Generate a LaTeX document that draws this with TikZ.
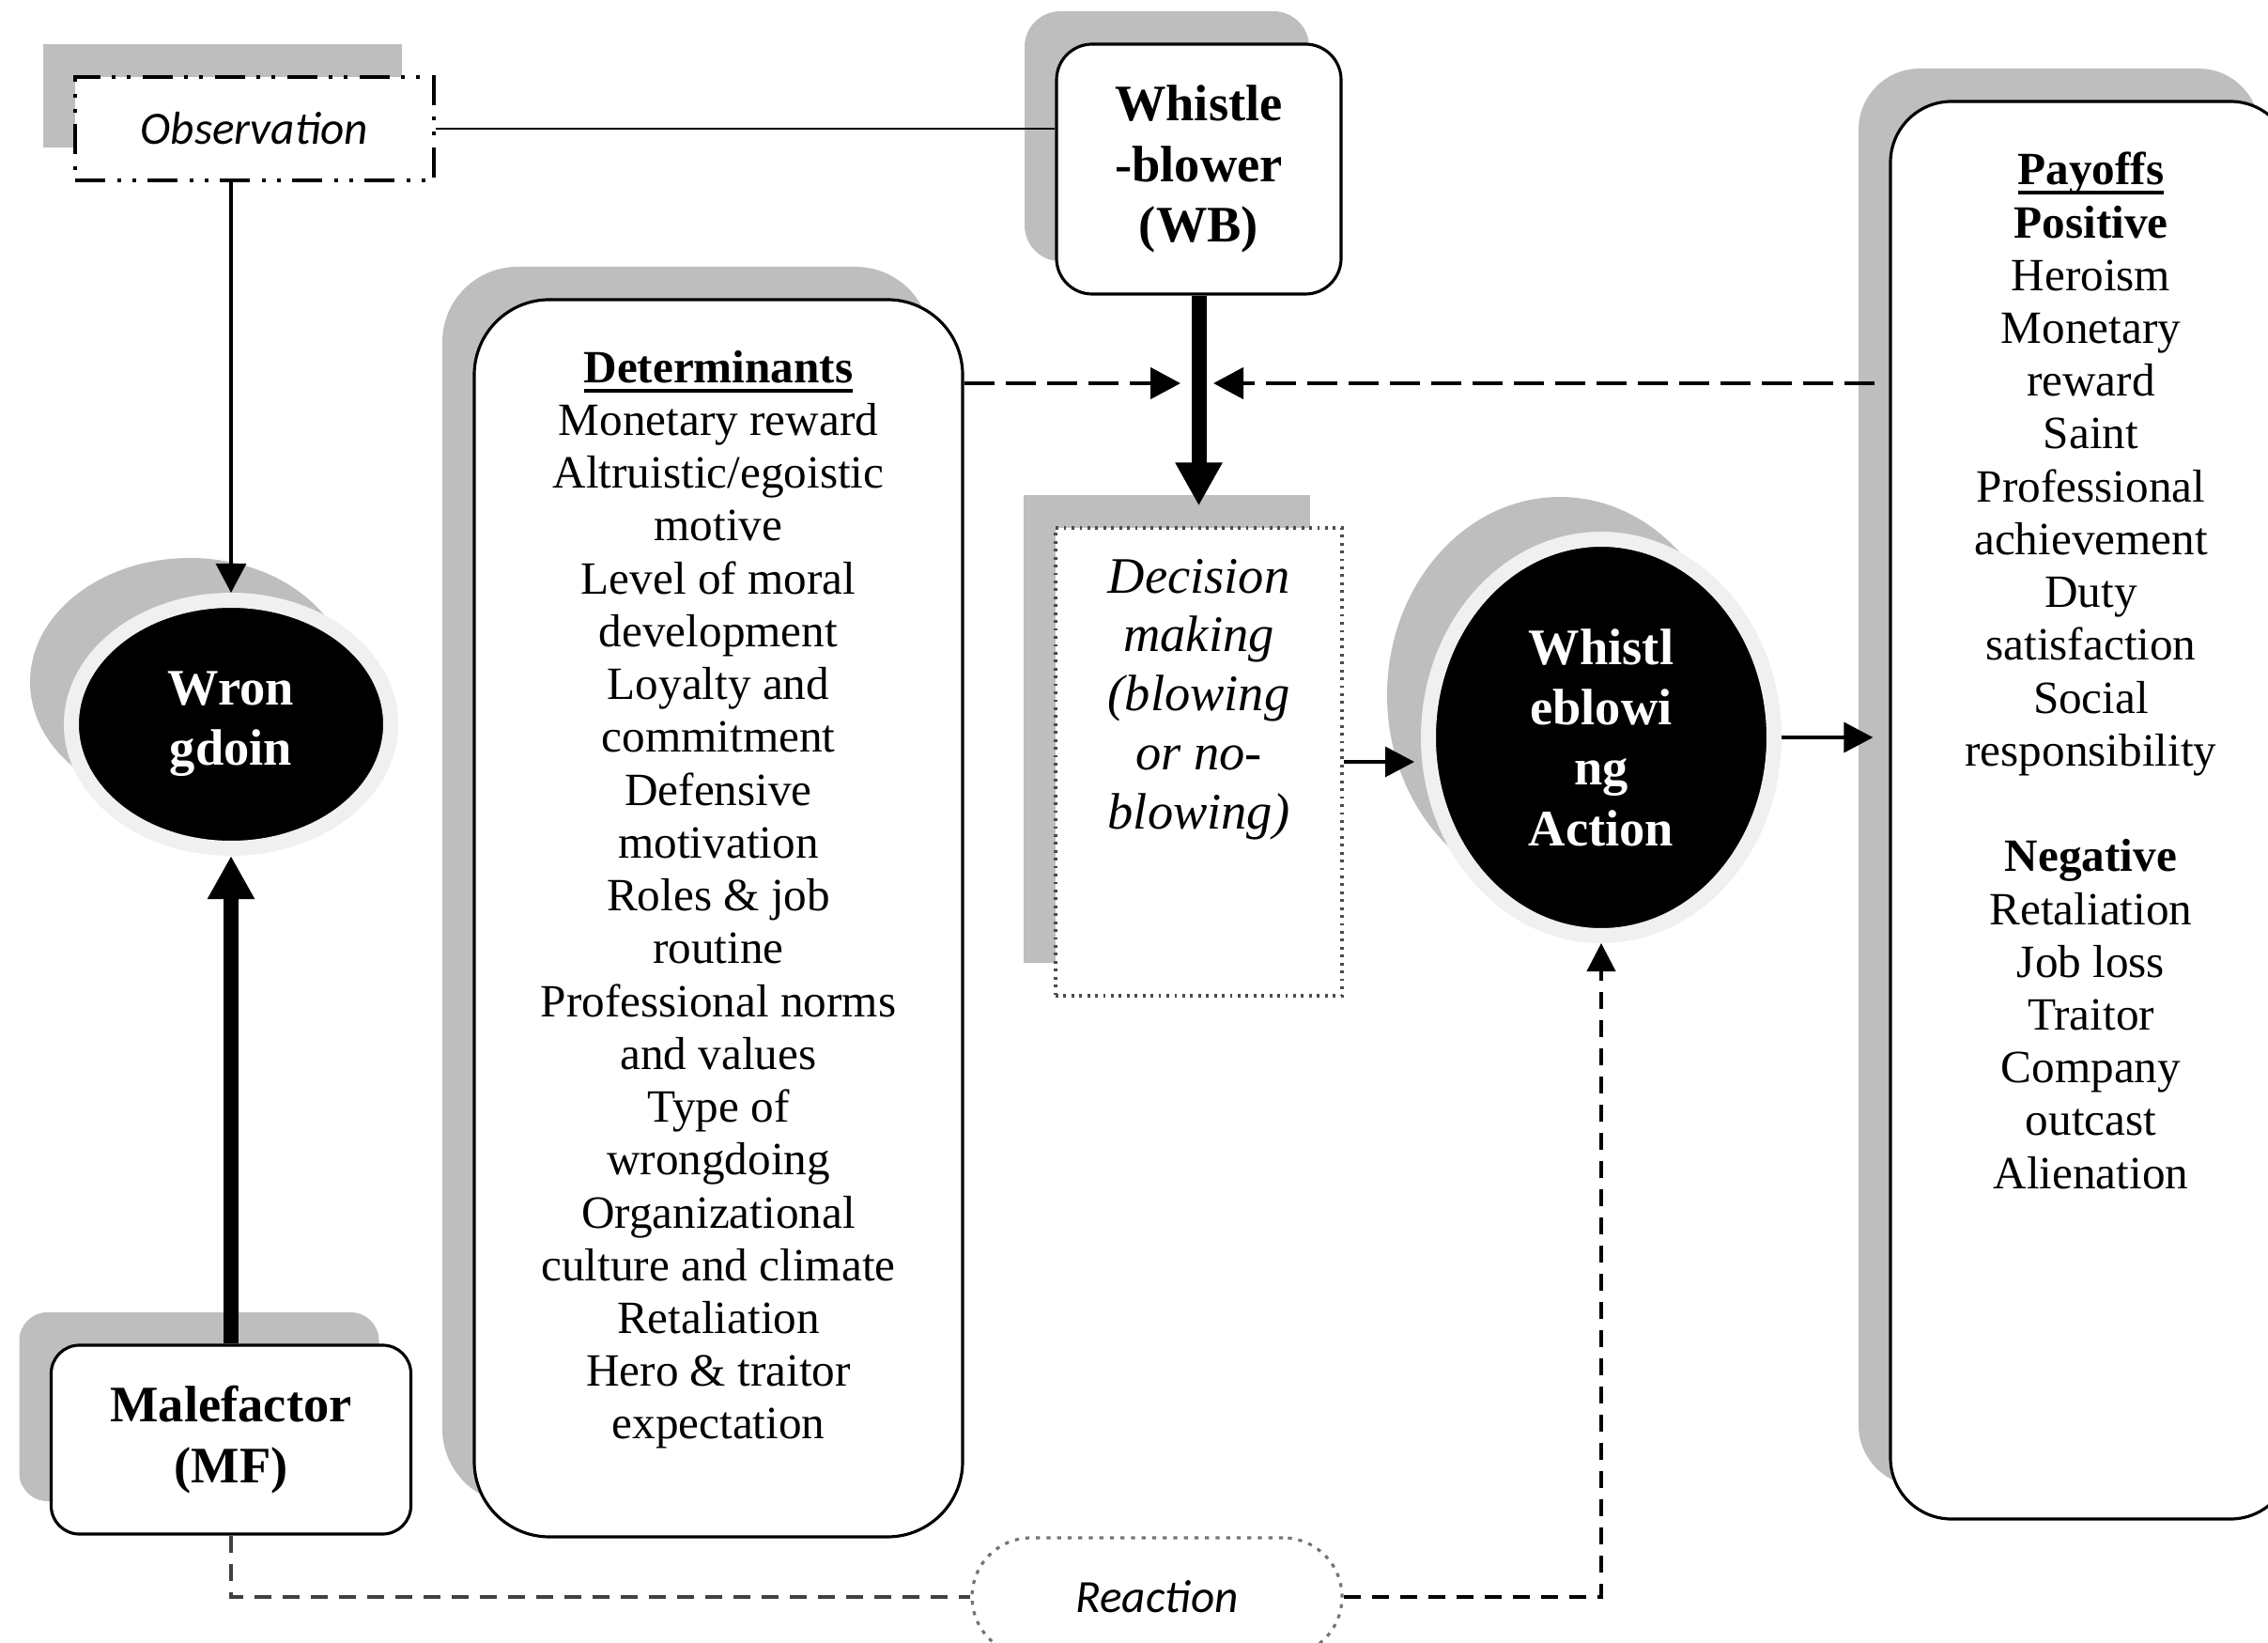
\documentclass[tikz,border=0pt]{standalone}
\usepackage{fontspec}
\setmainfont{Liberation Serif}
\newfontfamily\calfont{Carlito}
\usepackage{tikz}
\usetikzlibrary{shapes.geometric}
\usetikzlibrary{shadows}
\usetikzlibrary{arrows.meta}
\usetikzlibrary{positioning}

\definecolor{shadowgray}{RGB}{190,190,190}
\definecolor{ringgray}{RGB}{240,240,240}
\newcommand{\listfont}{\fontsize{14}{16}\selectfont}
\newcommand{\headfont}{\fontsize{15.5}{18.3}\selectfont\bfseries}
\newcommand{\thickul}[1]{\setbox0=\hbox{#1}\rlap{\rule[-3pt]{\wd0}{1.2pt}}\box0}

\begin{document}
\begin{tikzpicture}
    [
    box/.style={rectangle,draw,fill=white,line width=0.9pt,inner sep=0pt,align=center,
      general shadow={fill=shadowgray,shadow xshift=-0.34cm,shadow yshift=0.35cm}},
    roundbox/.style={box,rounded corners=#1},
    blob/.style={ellipse,fill=black,draw=ringgray,line width=0.16cm,inner sep=0pt,
      text=white,align=center,font=\headfont,
      general shadow={fill=shadowgray,shadow xshift=-0.44cm,shadow yshift=0.45cm}},
    listtext/.style={anchor=north,inner sep=0pt,align=center,font=\listfont},
    arrow/.style={line width=0.9pt,-{Triangle[length=0.31cm,width=0.32cm]}},
    bigarrow/.style={line width=0.16cm,-{Triangle[length=0.46cm,width=0.47cm]}},
    dasharrow/.style={line width=1.3pt,dash pattern=on 0.32cm off 0.12cm,-{Triangle[length=0.32cm,width=0.33cm]}},
    reactline/.style={line width=1.2pt,black!75,dash pattern=on 0.18cm off 0.12cm}
    ]
    \useasboundingbox (0,0) rectangle (24.15,17.48);
    \node (obs) at (2.71,16.11) [box,minimum width=3.82cm,minimum height=1.10cm,
      dash pattern=on 0.32cm off 0.13cm on 0.04cm off 0.12cm on 0.04cm off 0.12cm]
      {\calfont\itshape\fontsize{14}{16}\selectfont Observation};
    \node (wb) at (12.765,15.68) [roundbox=0.38cm,minimum width=3.03cm,minimum height=2.66cm,font=\headfont]
      {Whistle\\-blower\\(WB)};
    \node (det) at (7.65,7.705) [roundbox=0.8cm,minimum width=5.20cm,minimum height=13.17cm] {};
    \node (dettext) at ([yshift=-0.55cm]det.north) [listtext]
      {\textbf{\thickul{Determinants}}\\Monetary reward\\Altruistic/egoistic\\motive\\Level of moral\\development\\
       Loyalty and\\commitment\\Defensive\\motivation\\Roles \& job\\routine\\Professional norms\\and values\\
       Type of\\wrongdoing\\Organizational\\culture and climate\\Retaliation\\Hero \& traitor\\expectation};
    \node (dm) at (12.765,9.37) [box,minimum width=3.05cm,minimum height=4.98cm,draw=black!70,
      dash pattern=on 0.8pt off 1.6pt] {};
    \node (dmtext) at ([yshift=-0.34cm]dm.north) [listtext,font=\fontsize{15.5}{17.85}\selectfont\itshape]
      {Decision\\making\\(blowing\\or no-\\blowing)};
    \node (wrong) at (2.46,9.77) [blob,minimum width=3.40cm,minimum height=2.64cm] {Wron\\gdoin};
    \node (wba) at (17.05,9.63) [blob,minimum width=3.68cm,minimum height=4.22cm] {Whistl\\eblowi\\ng\\Action};
    \node (mf) at (2.46,2.155) [roundbox=0.3cm,minimum width=3.83cm,minimum height=2.01cm,font=\headfont]
      {Malefactor\\(MF)};
    \node (pay) at (22.265,8.855) [roundbox=0.65cm,minimum width=4.27cm,minimum height=15.09cm] {};
    \node (paytext) at ([yshift=-0.55cm]pay.north) [listtext]
      {\textbf{\thickul{Payoffs}}\\\textbf{Positive}\\Heroism\\Monetary\\reward\\Saint\\Professional\\achievement\\
       Duty\\satisfaction\\Social\\responsibility\\[16pt]\textbf{Negative}\\Retaliation\\Job loss\\Traitor\\
       Company\\outcast\\Alienation};
    \node (react) at (12.32,0.48) [rectangle,draw=black!55,fill=white,line width=0.9pt,rounded corners=0.63cm,
      dash pattern=on 1.2pt off 2pt,minimum width=3.94cm,minimum height=1.26cm]
      {\calfont\itshape\fontsize{14}{16}\selectfont Reaction};
    \coordinate (jl) at (12.57,13.40);
    \coordinate (jr) at (12.92,13.40);
    \draw [line width=0.7pt] (obs) -- (obs -| wb.west);
    \draw [arrow] (wrong |- obs.south) -- (wrong);
    \draw [bigarrow] (mf) -- (wrong);
    \draw [bigarrow,shorten >=0.22cm] (wb) -- (dm);
    \draw [dasharrow] (det.east |- jl) -- (jl);
    \draw [dasharrow,shorten <=0.15cm] (pay.west |- jr) -- (jr);
    \draw [arrow,shorten >=0.07cm] (dm.east) -- (dm.east -| wba.west);
    \draw [arrow,shorten >=0.17cm] (wba) -- (wba -| pay.west);
    \draw [reactline] (mf) |- (react);
    \draw [reactline,black,-{Triangle[length=0.3cm,width=0.3cm]}] (react) -| (wba);
\end{tikzpicture}
\end{document}
